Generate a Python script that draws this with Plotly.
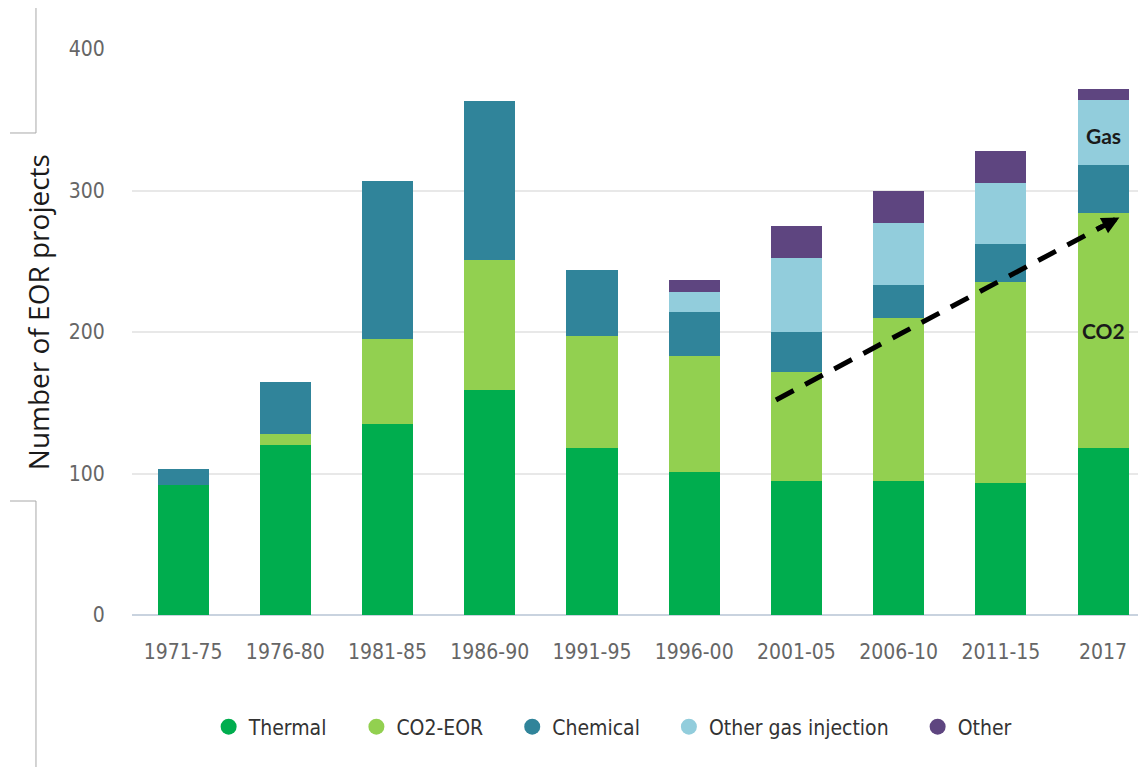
import plotly.graph_objects as go

periods = ["1971-75", "1976-80", "1981-85", "1986-90", "1991-95",
           "1996-00", "2001-05", "2006-10", "2011-15", "2017"]
thermal = [92, 120, 135, 159, 118, 101, 95, 95, 93, 118]
co2_eor = [0, 8, 60, 92, 79, 82, 77, 115, 142, 166]
chemical = [11, 37, 112, 112, 47, 31, 28, 23, 27, 34]
other_gas = [0, 0, 0, 0, 0, 14, 52, 44, 43, 46]
other = [0, 0, 0, 0, 0, 9, 23, 23, 23, 8]
y_ticks = [0, 100, 200, 300, 400]

series = [
    ("Thermal", thermal, "#00AD4E"),
    ("CO2-EOR", co2_eor, "#92D050"),
    ("Chemical", chemical, "#30849A"),
    ("Other gas injection", other_gas, "#92CDDC"),
    ("Other", other, "#5E4580"),
]

# trend arrow (category index, value)
arrow_start = (5.8, 152)
arrow_end = (9.16, 281)

# in-bar labels for the last period
last_idx = len(periods) - 1
gas_label_y = 339
co2_label_y = 201

TICKFONT = "DejaVu Sans Condensed, Liberation Sans Narrow, sans-serif"
NBSP = "\u00a0"

fig = go.Figure()
for name, vals, color in series:
    fig.add_trace(go.Bar(
        x=periods, y=vals, name=name, marker=dict(color=color, line=dict(width=0)),
        width=0.5, showlegend=False, hoverinfo="y+name"))
for i, (name, vals, color) in enumerate(series):
    label = name + (NBSP * 4 if i < len(series) - 1 else "")
    fig.add_trace(go.Scatter(
        x=[None], y=[None], mode="markers", name=label,
        marker=dict(symbol="circle", size=20, color=color)))

# dashed trend line with arrow head
dx = arrow_end[0] - arrow_start[0]
dy = arrow_end[1] - arrow_start[1]
fig.add_shape(type="line", xref="x", yref="y",
              x0=arrow_start[0], y0=arrow_start[1],
              x1=arrow_end[0] - 0.05 * dx, y1=arrow_end[1] - 0.05 * dy,
              line=dict(color="black", width=5, dash="20px,13px"))
fig.add_annotation(x=arrow_end[0], y=arrow_end[1], xref="x", yref="y",
                   ax=arrow_end[0] - 0.07 * dx, ay=arrow_end[1] - 0.07 * dy,
                   axref="x", ayref="y", text="", showarrow=True,
                   arrowhead=2, arrowsize=0.7, arrowwidth=5, arrowcolor="black")

fig.add_annotation(x=last_idx, y=gas_label_y, xref="x", yref="y", text="<b>Gas</b>",
                   showarrow=False,
                   font=dict(family="Lato, sans-serif", size=21, color="#1a1a1a"))
fig.add_annotation(x=last_idx, y=co2_label_y, xref="x", yref="y", text="<b>CO2</b>",
                   showarrow=False,
                   font=dict(family="Lato, sans-serif", size=21, color="#1a1a1a"))

fig.add_annotation(x=-0.0927, y=0.535, xref="paper", yref="paper",
                   xanchor="center", yanchor="middle",
                   text="Number of EOR projects", textangle=-90, showarrow=False,
                   font=dict(family="Open Sans, sans-serif", size=28, color="#1a1a1a"))

# decorative frame lines from the original image
line_style = dict(color="#a8a8a8", width=1)
fig.add_shape(type="line", xref="paper", yref="paper", x0=-0.0947, x1=-0.0947,
              y0=0.8516, y1=1.0724, line=line_style)
fig.add_shape(type="line", xref="paper", yref="paper", x0=-0.1203, x1=-0.0947,
              y0=0.8516, y1=0.8516, line=line_style)
fig.add_shape(type="line", xref="paper", yref="paper", x0=-0.1203, x1=-0.0947,
              y0=0.2014, y1=0.2014, line=line_style)
fig.add_shape(type="line", xref="paper", yref="paper", x0=-0.0947, x1=-0.0947,
              y0=0.2014, y1=-0.2686, line=line_style)

fig.update_layout(
    barmode="stack",
    width=1138, height=759,
    margin=dict(l=124, r=0, t=41, b=152),
    paper_bgcolor="white", plot_bgcolor="white",
    legend=dict(orientation="h", x=0.474, xanchor="center", y=-0.198,
                yanchor="middle", traceorder="normal",
                font=dict(family=TICKFONT, size=21, color="#333")),
    xaxis=dict(type="category", range=[-0.5, 9.42], showgrid=False,
               tickfont=dict(family=TICKFONT, size=21, color="#666"),
               ticks="outside", ticklen=18, tickcolor="rgba(0,0,0,0)",
               showline=False, zeroline=False),
    yaxis=dict(range=[0, 400], tickvals=y_ticks, showgrid=True,
               gridcolor="#e8e8e8", gridwidth=1.5,
               zeroline=True, zerolinecolor="#c9d3df", zerolinewidth=2,
               tickfont=dict(family=TICKFONT, size=21, color="#666"),
               ticks="outside", ticklen=22, tickcolor="rgba(0,0,0,0)"),
)

fig.write_html("out.html")
